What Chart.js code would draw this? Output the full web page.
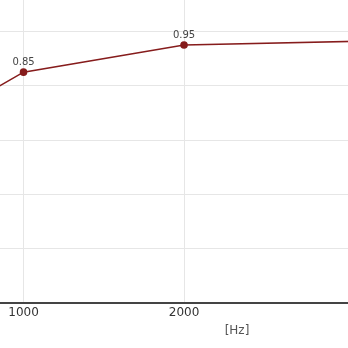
<!DOCTYPE html>
<html>
<head>
<meta charset="utf-8">
<script src="https://cdn.jsdelivr.net/npm/chart.js@4"></script>
<style>
  html, body { margin: 0; padding: 0; background: #fff; overflow: hidden; }
  #wrap { position: absolute; left: -137px; top: -23px; width: 748px; height: 365px; }
</style>
</head>
<body>
<div id="wrap"><canvas id="chart"></canvas></div>
<script>
// ================= DATA =================
const frequencias = [125, 250, 500, 1000, 2000, 4000];
const coeficientes = [0.30, 0.52, 0.68, 0.85, 0.95, 0.975];
const ticksX = [125, 250, 500, 1000, 2000, 4000];
const ticksY = [0, 0.2, 0.4, 0.6, 0.8, 1.0];
const rotulosX = ["125", "250", "500", "1000", "2000", "4000"];

// valor escrito acima de cada ponto
const rotuloPontos = {
  id: "rotuloPontos",
  afterDatasetsDraw(chart) {
    const ctx = chart.ctx;
    const meta = chart.getDatasetMeta(0);
    ctx.save();
    ctx.font = "10px 'DejaVu Sans'";
    ctx.fillStyle = "#444";
    ctx.textAlign = "center";
    ctx.textBaseline = "alphabetic";
    meta.data.forEach((p, i) => {
      ctx.fillText(coeficientes[i].toFixed(2), p.x, p.y - 7);
    });
    ctx.restore();
  }
};

new Chart(document.getElementById("chart"), {
  type: "line",
  data: {
    datasets: [{
      data: frequencias.map((f, i) => ({ x: f, y: coeficientes[i] })),
      borderColor: "#861c1c",
      backgroundColor: "#861c1c",
      borderWidth: 1.6,
      pointRadius: 3,
      pointHoverRadius: 3,
      tension: 0
    }]
  },
  options: {
    responsive: true,
    maintainAspectRatio: false,
    animation: false,
    events: [],
    layout: { autoPadding: false, padding: 0 },
    plugins: {
      legend: { display: false },
      tooltip: { enabled: false }
    },
    scales: {
      x: {
        type: "linear",
        min: 0,
        max: 4660,
        afterBuildTicks: s => { s.ticks = ticksX.map(v => ({ value: v })); },
        afterFit: s => { s.paddingLeft = 0; s.paddingRight = 0; },
        ticks: {
          callback: (v) => rotulosX[ticksX.indexOf(v)],
          font: { family: "'DejaVu Sans'", size: 12 },
          color: "#333",
          maxRotation: 0,
          autoSkip: false,
          padding: 2
        },
        grid: { color: "#e6e6e6", lineWidth: 1, drawTicks: false },
        border: { color: "#444", width: 2 },
        title: {
          display: true,
          text: "[Hz]",
          font: { family: "'DejaVu Sans'", size: 12 },
          color: "#555",
          padding: { top: 2, bottom: 4 }
        }
      },
      y: {
        min: 0,
        max: 1.2,
        afterBuildTicks: s => { s.ticks = ticksY.map(v => ({ value: v })); },
        afterFit: s => { s.width = 0; s.paddingTop = 0; s.paddingBottom = 0; },
        ticks: { display: false },
        grid: { color: "#e6e6e6", lineWidth: 1, drawTicks: false },
        border: { display: false }
      }
    }
  },
  plugins: [rotuloPontos]
});
</script>
</body>
</html>
